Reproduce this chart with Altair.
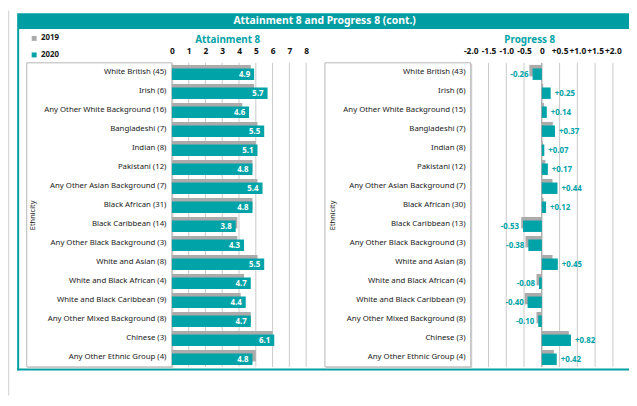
import altair as alt
import pandas as pd

# ---------------- data ----------------
cats_att = ["White British (45)", "Irish (6)", "Any Other White Background (16)", "Bangladeshi (7)",
            "Indian (8)", "Pakistani (12)", "Any Other Asian Background (7)", "Black African (31)",
            "Black Caribbean (14)", "Any Other Black Background (3)", "White and Asian (8)",
            "White and Black African (4)", "White and Black Caribbean (9)",
            "Any Other Mixed Background (8)", "Chinese (3)", "Any Other Ethnic Group (4)"]
att_2019 = [4.7, 4.9, 4.2, 5.1, 5.0, 4.8, 5.1, 4.8, 3.9, 3.9, 5.1, 4.3, 4.1, 4.7, 6.0, 5.0]
att_2020 = [4.9, 5.7, 4.6, 5.5, 5.1, 4.8, 5.4, 4.8, 3.8, 4.3, 5.5, 4.7, 4.4, 4.7, 6.1, 4.8]

cats_prog = ["White British (43)", "Irish (6)", "Any Other White Background (15)", "Bangladeshi (7)",
             "Indian (8)", "Pakistani (12)", "Any Other Asian Background (7)", "Black African (30)",
             "Black Caribbean (13)", "Any Other Black Background (3)", "White and Asian (8)",
             "White and Black African (4)", "White and Black Caribbean (9)",
             "Any Other Mixed Background (8)", "Chinese (3)", "Any Other Ethnic Group (4)"]
prog_2019 = [-0.35, 0.04, 0.06, 0.31, 0.03, 0.10, 0.30, 0.05, -0.58, -0.46, 0.30, -0.15, -0.48, -0.15, 0.76, 0.34]
prog_2020 = [-0.26, 0.25, 0.14, 0.37, 0.07, 0.17, 0.44, 0.12, -0.53, -0.38, 0.45, -0.08, -0.40, -0.10, 0.82, 0.42]

years = ["2019", "2020"]
att_ticks = [0, 1, 2, 3, 4, 5, 6, 7, 8]
prog_ticks = [-2.0, -1.5, -1.0, -0.5, 0.0, 0.5, 1.0, 1.5, 2.0]

title_text = "Attainment 8 and Progress 8 (cont.)"

# ---------------- styles ----------------
FONT = "Noto Sans"
TEAL = "#00A3A7"
TEAL_DARK = "#009EA2"
GREY = "#ABABAB"
GRID = "#C9C9C9"
LABEL = "#1A1A1A"

def long_df(cats, v19, v20):
    rows = []
    for c, a, b in zip(cats, v19, v20):
        rows.append({"cat": c, "year": years[0], "value": a})
        rows.append({"cat": c, "year": years[1], "value": b})
    return pd.DataFrame(rows)

att_long = long_df(cats_att, att_2019, att_2020)
att_lbl = pd.DataFrame({"cat": cats_att, "value": att_2020,
                        "lbl": [f"{v:.1f}" for v in att_2020]})
prog_long = long_df(cats_prog, prog_2019, prog_2020)
prog_lbl = pd.DataFrame({"cat": cats_prog, "value": prog_2020,
                         "lbl": [(f"+{v:.2f}" if v > 0 else f"{v:.2f}") for v in prog_2020]})

cscale = alt.Scale(domain=years, range=[GREY, TEAL])
legend = alt.Legend(title=None, orient="none", legendX=22.5, legendY=24.3, symbolType="square",
                    symbolSize=25, symbolStrokeWidth=0, labelFont=FONT, labelFontSize=8,
                    labelFontWeight="bold", labelColor=LABEL, labelOffset=3, rowPadding=8.7,
                    padding=0)

# ---------------- attainment panel ----------------
xa = alt.Scale(domain=[0, 8], range=[166, 302], nice=False, zero=False)
ya = alt.Scale(domain=cats_att, range=[53, 361], paddingInner=0, paddingOuter=0)
xa_axis = alt.Axis(orient="top", offset=-40.7, values=att_ticks, format="d", domain=False,
                   ticks=False, grid=False, labelPadding=0, labelBaseline="middle",
                   labelFont=FONT, labelFontSize=8.5, labelFontWeight="bold", labelColor="#111",
                   labelOverlap=False, labelFlush=False,
                   title="Attainment 8", titleFont=FONT, titleFontSize=10, titleFontWeight="bold",
                   titleColor=TEAL, titleX=222, titleY=-11.5, titleBaseline="middle",
                   titleAlign="center", zindex=2)
ya_axis = alt.Axis(orient="left", offset=-166, domain=False, ticks=False, grid=False,
                   labelPadding=6, labelFont=FONT, labelFontSize=7.9, labelColor=LABEL,
                   labelLimit=300, title="Ethnicity", titleFont=FONT, titleFontSize=7.5,
                   titleFontWeight="normal", titleColor=LABEL, titleAngle=270,
                   titleX=-141, titleY=207, titleAlign="center", titleBaseline="middle",
                   zindex=2)

att_grid = alt.Chart(pd.DataFrame({"value": att_ticks[1:]})).mark_rule(
    color=GRID, strokeWidth=1).encode(
    x=alt.X("value:Q", scale=xa, axis=xa_axis), y=alt.value(53), y2=alt.value(361))

att_grey = alt.Chart(att_long).transform_filter(alt.datum.year == years[0]).mark_bar(
    height=11.6, yOffset=-1.7).encode(
    x=alt.X("value:Q", scale=xa, axis=xa_axis),
    y=alt.Y("cat:N", scale=ya, sort=cats_att, axis=ya_axis),
    color=alt.Color("year:N", scale=cscale, legend=legend))

att_teal = alt.Chart(att_long).transform_filter(alt.datum.year == years[1]).mark_bar(
    height=11.6, yOffset=1.9).encode(
    x=alt.X("value:Q", scale=xa, axis=xa_axis),
    y=alt.Y("cat:N", scale=ya, sort=cats_att, axis=ya_axis),
    color=alt.Color("year:N", scale=cscale, legend=legend))

att_text = alt.Chart(att_lbl).mark_text(
    align="right", baseline="middle", dx=-4, dy=2.5, color="white", font=FONT,
    fontSize=8, fontWeight="bold").encode(
    x=alt.X("value:Q", scale=xa, axis=xa_axis),
    y=alt.Y("cat:N", scale=ya, sort=cats_att, axis=ya_axis),
    text="lbl:N")

att_panel = alt.layer(att_grid, att_grey, att_teal, att_text)

# ---------------- progress panel ----------------
xp = alt.Scale(domain=[-2, 2], range=[468.7, 612.7], nice=False, zero=False)
yp = alt.Scale(domain=cats_prog, range=[53, 361], paddingInner=0, paddingOuter=0)
xp_axis = alt.Axis(orient="top", offset=-40.7, values=prog_ticks, domain=False, ticks=False,
                   grid=False, labelPadding=0, labelBaseline="middle",
                   labelExpr="datum.value > 0 ? '+' + format(datum.value, '.1f') : (datum.value == 0 ? '0' : '-' + format(-datum.value, '.1f'))",
                   labelFont=FONT, labelFontSize=8.5, labelFontWeight="bold", labelColor="#111",
                   labelOverlap=False, labelFlush=False,
                   title="Progress 8", titleFont=FONT, titleFontSize=10, titleFontWeight="bold",
                   titleColor=TEAL, titleX=528, titleY=-11.5, titleBaseline="middle",
                   titleAlign="center", zindex=2)
yp_axis = alt.Axis(orient="left", offset=-469, domain=False, ticks=False, grid=False,
                   labelPadding=6, labelFont=FONT, labelFontSize=7.9, labelColor=LABEL,
                   labelLimit=300, title="Ethnicity", titleFont=FONT, titleFontSize=7.5,
                   titleFontWeight="normal", titleColor=LABEL, titleAngle=270,
                   titleX=-140, titleY=207, titleAlign="center", titleBaseline="middle",
                   zindex=2)

prog_grid_df = pd.DataFrame({"value": prog_ticks[1:]})
prog_grid = alt.Chart(prog_grid_df).mark_rule(strokeWidth=1).encode(
    x=alt.X("value:Q", scale=xp, axis=xp_axis), y=alt.value(53), y2=alt.value(361),
    color=alt.condition(alt.datum.value == 0, alt.value("#8A8A8A"), alt.value(GRID)))

prog_grey = alt.Chart(prog_long).transform_filter(alt.datum.year == years[0]).mark_bar(
    height=11.6, yOffset=-1.7).encode(
    x=alt.X("value:Q", scale=xp, axis=xp_axis),
    y=alt.Y("cat:N", scale=yp, sort=cats_prog, axis=yp_axis),
    color=alt.Color("year:N", scale=cscale, legend=legend))

prog_teal = alt.Chart(prog_long).transform_filter(alt.datum.year == years[1]).mark_bar(
    height=11.6, yOffset=1.9).encode(
    x=alt.X("value:Q", scale=xp, axis=xp_axis),
    y=alt.Y("cat:N", scale=yp, sort=cats_prog, axis=yp_axis),
    color=alt.Color("year:N", scale=cscale, legend=legend))

prog_text_pos = alt.Chart(prog_lbl).transform_filter(alt.datum.value > 0).mark_text(
    align="left", baseline="middle", dx=4, dy=2.5, color=TEAL, font=FONT,
    fontSize=8, fontWeight="bold").encode(
    x=alt.X("value:Q", scale=xp, axis=xp_axis),
    y=alt.Y("cat:N", scale=yp, sort=cats_prog, axis=yp_axis),
    text="lbl:N")

prog_text_neg = alt.Chart(prog_lbl).transform_filter(alt.datum.value < 0).mark_text(
    align="right", baseline="middle", dx=-4, dy=2.5, color=TEAL, font=FONT,
    fontSize=8, fontWeight="bold").encode(
    x=alt.X("value:Q", scale=xp, axis=xp_axis),
    y=alt.Y("cat:N", scale=yp, sort=cats_prog, axis=yp_axis),
    text="lbl:N")

prog_panel = alt.layer(prog_grid, prog_grey, prog_teal, prog_text_pos, prog_text_neg)

# ---------------- decorations ----------------
dummy = pd.DataFrame({"d": [0]})

def box(x, x2, y, y2, **kw):
    return alt.Chart(dummy).mark_rect(**kw).encode(
        x=alt.value(x), x2=alt.value(x2), y=alt.value(y), y2=alt.value(y2))

def rule(x, x2, y, y2, **kw):
    return alt.Chart(dummy).mark_rule(**kw).encode(
        x=alt.value(x), x2=alt.value(x2), y=alt.value(y), y2=alt.value(y2))

outer_line = rule(0.5, 0.5, 0, 390, color="#D9D9D9", strokeWidth=1.5)
header = box(9.3, 629, 2.7, 18.7, color=TEAL_DARK)
header_text = alt.Chart(dummy).mark_text(
    text=title_text, color="white", font=FONT, fontSize=10.5, fontWeight="bold",
    align="center", baseline="middle").encode(x=alt.value(320.7), y=alt.value(10.5))
frame_left = rule(10.3, 10.3, 18.7, 364.7, color=TEAL_DARK, strokeWidth=2)
frame_bottom = rule(9.3, 629, 363.7, 363.7, color=TEAL_DARK, strokeWidth=2)

att_shadow = box(20, 167.5, 54, 362.5, color="#D4D4D4")
att_box = box(19, 166, 53, 361, fill="white", stroke="#B5B5B5", strokeWidth=1)
prog_shadow = box(322, 470.2, 54, 362.5, color="#D4D4D4")
prog_box = box(321, 468.7, 53, 361, fill="white", stroke="#B5B5B5", strokeWidth=1)

chart = alt.layer(
    outer_line, header, header_text, frame_left, frame_bottom,
    att_shadow, att_box, prog_shadow, prog_box,
    att_panel, prog_panel
).resolve_scale(x="independent", y="independent").properties(
    width=629, height=390, autosize=alt.AutoSizeParams(type="none"), padding=0,
    background="white"
).configure_view(stroke=None)

chart.save("out.html", embed_options={"renderer": "svg", "actions": False})
